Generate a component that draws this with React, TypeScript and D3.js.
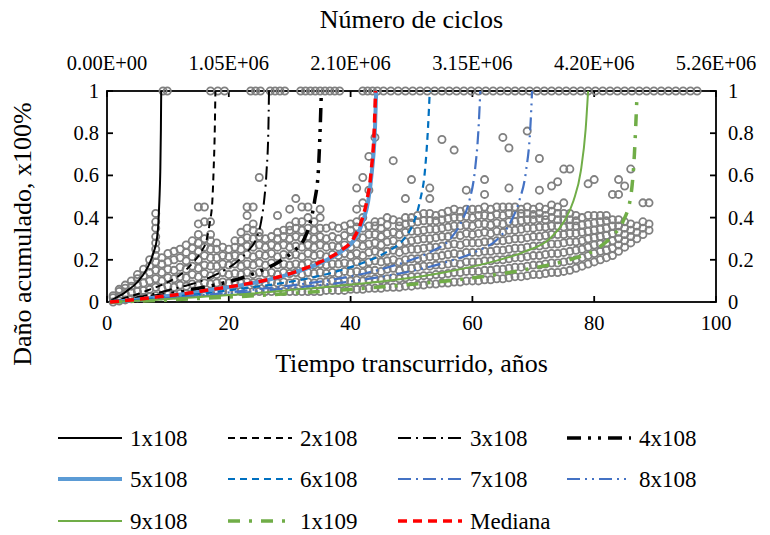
import React from "react";
import * as d3 from "d3";

// ---------- DATA ----------
const xTicks = [0, 20, 40, 60, 80, 100];
const yTicks = [0, 0.2, 0.4, 0.6, 0.8, 1];
const yTickLabels = ["0", "0.2", "0.4", "0.6", "0.8", "1"];
const topLabels = ["0.00E+00", "1.05E+06", "2.10E+06", "3.15E+06", "4.20E+06", "5.26E+06"];

const seriesNames = ["1x108", "2x108", "3x108", "4x108", "5x108", "6x108", "7x108", "8x108", "9x108", "1x109", "Mediana"];

const t1 = [0.5, 0.9, 1.8, 2.7, 3.6, 4.5, 5.3, 6.2, 7.1, 7.7, 8.2, 8.45, 8.6, 8.75, 8.85, 8.9];
const t2 = [0.5, 1.8, 3.6, 5.3, 7.1, 8.9, 10.7, 12.5, 14.2, 15.5, 16.4, 16.9, 17.3, 17.5, 17.7, 17.8];
const t3 = [0.5, 2.7, 5.3, 8.0, 10.6, 13.3, 16.0, 18.6, 21.3, 23.1, 24.5, 25.3, 25.8, 26.2, 26.5, 26.6];
const t4 = [0.5, 3.5, 7.0, 10.6, 14.1, 17.6, 21.1, 24.6, 28.2, 30.6, 32.4, 33.4, 34.1, 34.7, 35.0, 35.2];
const t5 = [0.5, 4.4, 8.8, 13.3, 17.7, 22.1, 26.5, 30.9, 35.4, 38.5, 40.7, 42.0, 42.9, 43.5, 44.0, 44.2];
const t6 = [0.5, 5.3, 10.6, 15.9, 21.2, 26.5, 31.8, 37.1, 42.4, 46.1, 48.8, 50.4, 51.4, 52.2, 52.7, 53.0];
const t7 = [0.5, 6.1, 12.3, 18.4, 24.5, 30.7, 36.8, 42.9, 49.0, 53.3, 56.4, 58.2, 59.5, 60.4, 61.0, 61.3];
const t8 = [0.5, 7.0, 14.0, 20.9, 27.9, 34.9, 41.9, 48.9, 55.8, 60.7, 64.2, 66.3, 67.7, 68.8, 69.5, 69.8];
const t9 = [0.5, 7.9, 15.8, 23.7, 31.6, 39.5, 47.4, 55.3, 63.2, 68.7, 72.7, 75.0, 76.6, 77.8, 78.6, 79.0];
const t10 = [0.5, 8.7, 17.5, 26.2, 34.9, 43.6, 52.4, 61.1, 69.8, 75.9, 80.3, 82.9, 84.7, 86.0, 86.6, 87.0];
const tMed = [0.5, 4.4, 8.8, 13.2, 17.6, 22.0, 26.4, 30.8, 35.2, 38.3, 40.5, 41.8, 42.7, 43.4, 43.9, 44.1];

const dStd = [0, 0.01, 0.025, 0.04, 0.06, 0.08, 0.105, 0.14, 0.19, 0.24, 0.3, 0.38, 0.48, 0.62, 0.82, 1.0];
const d10 = [0, 0.008, 0.02, 0.033, 0.05, 0.068, 0.09, 0.118, 0.16, 0.2, 0.25, 0.31, 0.38, 0.5, 0.7, 0.96];
const dMed = [0, 0.011, 0.026, 0.041, 0.061, 0.081, 0.106, 0.142, 0.192, 0.242, 0.302, 0.385, 0.485, 0.625, 0.83, 1.0];

// Failed simulations plotted at 100% damage
const failedYears = [9.2, 9.9, 17.0, 18.2, 19.3, 23.6, 24.4, 25.2, 26.8, 27.6, 28.4, 29.2, 31.8, 32.6, 33.4, 34.2, 35.0, 35.8, 36.6, 37.4, 38.2,
  42.0, 42.8, 43.6, 44.4, 45.4, 46.6, 47.8, 49.0, 50.2, 51.4, 52.6, 53.8, 55.0, 56.2, 57.4, 58.6, 59.8, 61.0, 62.2, 63.4, 64.6, 65.8, 67.0,
  68.2, 69.4, 70.6, 71.8, 73.0, 74.2, 75.4, 76.6, 77.8, 79.0, 80.2, 81.4, 82.6, 83.8, 85.0, 86.2, 87.4, 88.6, 89.8, 91.0, 92.2, 93.4, 94.6, 95.8, 96.9];

// Simulated damage values, grouped by year
const cloudYears = [1, 2, 3, 4, 5, 6, 7, 8, 9, 10, 11, 12, 13, 14, 15, 16, 17, 18, 19, 20, 21, 22, 23, 24, 25, 26, 27, 28, 29, 30,
  31, 32, 33, 34, 35, 36, 37, 38, 39, 40, 41, 42, 43, 44, 45, 46, 47, 48, 49, 50, 51, 52, 53, 54, 55, 56, 57, 58, 59, 60,
  61, 62, 63, 64, 65, 66, 67, 68, 69, 70, 71, 72, 73, 74, 75, 76, 77, 78, 79, 80, 81, 82, 83, 84, 85, 86, 87, 88, 89];
const cloudDamage = [
  [0.0, 0.02, 0.03],
  [0.005, 0.025, 0.05, 0.06],
  [0.01, 0.04, 0.065, 0.08],
  [0.015, 0.045, 0.075, 0.1],
  [0.02, 0.05, 0.085, 0.11, 0.13],
  [0.02, 0.055, 0.09, 0.125, 0.155],
  [0.025, 0.06, 0.1, 0.14, 0.17, 0.2],
  [0.03, 0.07, 0.11, 0.15, 0.19, 0.22, 0.25, 0.28, 0.31, 0.35, 0.38, 0.42],
  [0.03, 0.065, 0.1, 0.14, 0.18, 0.21],
  [0.035, 0.075, 0.115, 0.155, 0.19, 0.23],
  [0.035, 0.07, 0.11, 0.15, 0.2, 0.24],
  [0.04, 0.08, 0.12, 0.165, 0.21, 0.25],
  [0.04, 0.075, 0.115, 0.155, 0.195, 0.235, 0.27],
  [0.04, 0.085, 0.13, 0.17, 0.215, 0.255, 0.29],
  [0.045, 0.08, 0.12, 0.16, 0.2, 0.24, 0.28, 0.32, 0.37, 0.45],
  [0.045, 0.09, 0.135, 0.175, 0.22, 0.26, 0.3, 0.38, 0.45],
  [0.045, 0.085, 0.125, 0.17, 0.21, 0.25, 0.29, 0.32, 0.38],
  [0.05, 0.09, 0.13, 0.17, 0.21, 0.25, 0.28],
  [0.05, 0.095, 0.14, 0.18, 0.22, 0.26],
  [0.05, 0.09, 0.13, 0.175, 0.215, 0.25],
  [0.05, 0.095, 0.135, 0.18, 0.22, 0.26, 0.29],
  [0.05, 0.09, 0.13, 0.17, 0.21, 0.25, 0.29, 0.33],
  [0.05, 0.095, 0.14, 0.18, 0.225, 0.265, 0.305, 0.35, 0.41, 0.45],
  [0.05, 0.09, 0.13, 0.175, 0.215, 0.26, 0.3, 0.34, 0.37, 0.45],
  [0.05, 0.095, 0.14, 0.185, 0.225, 0.27, 0.31, 0.33, 0.59],
  [0.05, 0.09, 0.135, 0.175, 0.22, 0.26, 0.3],
  [0.05, 0.095, 0.14, 0.185, 0.23, 0.27, 0.31],
  [0.05, 0.09, 0.13, 0.175, 0.215, 0.26, 0.3, 0.33, 0.41],
  [0.05, 0.095, 0.14, 0.18, 0.225, 0.27, 0.31, 0.34],
  [0.05, 0.09, 0.135, 0.175, 0.22, 0.26, 0.3, 0.34, 0.36, 0.44],
  [0.05, 0.095, 0.14, 0.18, 0.225, 0.265, 0.31, 0.35, 0.38, 0.49],
  [0.05, 0.09, 0.13, 0.175, 0.215, 0.26, 0.3, 0.34, 0.38, 0.45],
  [0.05, 0.095, 0.14, 0.185, 0.23, 0.27, 0.31, 0.35, 0.4, 0.45],
  [0.05, 0.09, 0.135, 0.175, 0.22, 0.26, 0.3, 0.34, 0.38],
  [0.05, 0.095, 0.14, 0.18, 0.225, 0.27, 0.31, 0.35, 0.4, 0.44],
  [0.055, 0.095, 0.135, 0.175, 0.215, 0.26, 0.3, 0.35],
  [0.055, 0.1, 0.14, 0.18, 0.225, 0.265, 0.31, 0.36],
  [0.055, 0.095, 0.135, 0.18, 0.22, 0.26, 0.3, 0.35],
  [0.055, 0.1, 0.145, 0.185, 0.23, 0.27, 0.315, 0.36],
  [0.06, 0.1, 0.14, 0.18, 0.22, 0.26, 0.3, 0.34, 0.37],
  [0.06, 0.105, 0.145, 0.19, 0.23, 0.275, 0.315, 0.355, 0.38, 0.44, 0.54],
  [0.06, 0.1, 0.14, 0.18, 0.22, 0.265, 0.305, 0.35, 0.4, 0.47, 0.59],
  [0.065, 0.105, 0.15, 0.19, 0.235, 0.275, 0.32, 0.36, 0.53, 0.69],
  [0.065, 0.11, 0.15, 0.195, 0.24, 0.28, 0.32, 0.36, 0.38, 0.78],
  [0.065, 0.105, 0.145, 0.19, 0.23, 0.27, 0.31, 0.35, 0.38],
  [0.07, 0.11, 0.155, 0.195, 0.24, 0.285, 0.325, 0.365, 0.4],
  [0.07, 0.115, 0.16, 0.2, 0.245, 0.29, 0.33, 0.39, 0.67],
  [0.07, 0.11, 0.15, 0.19, 0.235, 0.275, 0.32, 0.36, 0.38],
  [0.075, 0.115, 0.16, 0.2, 0.245, 0.285, 0.33, 0.37, 0.4, 0.49],
  [0.075, 0.12, 0.16, 0.205, 0.25, 0.29, 0.335, 0.375, 0.4, 0.58],
  [0.08, 0.12, 0.165, 0.205, 0.25, 0.295, 0.335, 0.38, 0.41],
  [0.08, 0.125, 0.17, 0.21, 0.255, 0.3, 0.34, 0.385, 0.42],
  [0.085, 0.125, 0.17, 0.215, 0.26, 0.3, 0.345, 0.385, 0.42, 0.49, 0.54],
  [0.085, 0.13, 0.175, 0.215, 0.26, 0.305, 0.345, 0.385, 0.41],
  [0.09, 0.13, 0.175, 0.22, 0.265, 0.31, 0.35, 0.39, 0.42, 0.77],
  [0.09, 0.135, 0.18, 0.225, 0.27, 0.31, 0.355, 0.395, 0.43],
  [0.095, 0.14, 0.185, 0.23, 0.275, 0.32, 0.36, 0.4, 0.44, 0.72],
  [0.095, 0.14, 0.18, 0.225, 0.27, 0.315, 0.36, 0.4, 0.43],
  [0.1, 0.145, 0.19, 0.235, 0.28, 0.325, 0.365, 0.405, 0.44, 0.53],
  [0.1, 0.145, 0.19, 0.235, 0.28, 0.32, 0.36, 0.4, 0.44],
  [0.1, 0.145, 0.19, 0.235, 0.28, 0.325, 0.37, 0.41, 0.44],
  [0.105, 0.15, 0.195, 0.24, 0.285, 0.33, 0.37, 0.41, 0.45, 0.51, 0.58],
  [0.105, 0.15, 0.195, 0.24, 0.285, 0.325, 0.365, 0.405, 0.44],
  [0.11, 0.155, 0.2, 0.245, 0.29, 0.335, 0.375, 0.415, 0.45],
  [0.11, 0.155, 0.2, 0.245, 0.29, 0.33, 0.37, 0.41, 0.45, 0.78],
  [0.115, 0.16, 0.205, 0.25, 0.295, 0.34, 0.38, 0.42, 0.45, 0.54, 0.73],
  [0.12, 0.165, 0.21, 0.255, 0.3, 0.34, 0.38, 0.415, 0.45],
  [0.12, 0.165, 0.21, 0.255, 0.3, 0.345, 0.385, 0.42, 0.44],
  [0.125, 0.17, 0.215, 0.26, 0.305, 0.35, 0.39, 0.42, 0.45, 0.81],
  [0.13, 0.175, 0.22, 0.265, 0.31, 0.35, 0.39, 0.415, 0.44],
  [0.13, 0.175, 0.22, 0.265, 0.31, 0.355, 0.395, 0.42, 0.45, 0.53, 0.68],
  [0.135, 0.18, 0.225, 0.27, 0.315, 0.355, 0.39, 0.41, 0.44],
  [0.14, 0.185, 0.23, 0.275, 0.32, 0.36, 0.4, 0.43, 0.46, 0.55],
  [0.14, 0.185, 0.23, 0.275, 0.32, 0.36, 0.39, 0.42, 0.45, 0.57],
  [0.145, 0.19, 0.235, 0.28, 0.32, 0.355, 0.39, 0.42, 0.47, 0.63],
  [0.15, 0.195, 0.24, 0.285, 0.325, 0.36, 0.39, 0.42, 0.63],
  [0.16, 0.2, 0.245, 0.285, 0.325, 0.36, 0.385, 0.41],
  [0.17, 0.21, 0.25, 0.29, 0.33, 0.365, 0.4],
  [0.18, 0.22, 0.26, 0.3, 0.335, 0.37, 0.41, 0.56],
  [0.19, 0.23, 0.27, 0.305, 0.34, 0.375, 0.41, 0.58],
  [0.2, 0.24, 0.275, 0.31, 0.345, 0.38, 0.41],
  [0.21, 0.245, 0.28, 0.315, 0.35, 0.385, 0.41],
  [0.22, 0.255, 0.29, 0.325, 0.36, 0.39, 0.51],
  [0.24, 0.27, 0.3, 0.33, 0.36, 0.39, 0.51, 0.58],
  [0.26, 0.29, 0.32, 0.35, 0.38, 0.55],
  [0.28, 0.31, 0.34, 0.37, 0.63],
  [0.3, 0.33, 0.36],
  [0.32, 0.35, 0.38, 0.47],
  [0.34, 0.37, 0.47],
];

// ---------- STYLES ----------
const seriesTimes = [t1, t2, t3, t4, t5, t6, t7, t8, t9, t10, tMed];
const seriesDamage = [dStd, dStd, dStd, dStd, dStd, dStd, dStd, dStd, dStd, d10, dMed];
const seriesStyle = [
  { color: "#000000", width: 2, dash: "" },
  { color: "#000000", width: 2, dash: "7,5" },
  { color: "#000000", width: 2, dash: "13,5,2,5" },
  { color: "#000000", width: 3.5, dash: "14,7,3,7,3,7" },
  { color: "#5B9BD5", width: 4, dash: "" },
  { color: "#0070C0", width: 2.2, dash: "7,5" },
  { color: "#4472C4", width: 2.2, dash: "13,5,2,5" },
  { color: "#4472C4", width: 2.2, dash: "13,5,2,5,2,5" },
  { color: "#70AD47", width: 2, dash: "" },
  { color: "#70AD47", width: 3.5, dash: "12,9,3,9" },
  { color: "#FF0000", width: 3.5, dash: "9,6" },
];

const FONT = "'Liberation Serif', 'Times New Roman', serif";

export default function App() {
  const W = 770, H = 535;
  const x = d3.scaleLinear().domain([0, 100]).range([107, 716]);
  const y = d3.scaleLinear().domain([0, 1]).range([302, 91]);
  const line = d3
    .line<[number, number]>()
    .x((d) => x(d[0]))
    .y((d) => y(d[1]))
    .curve(d3.curveMonotoneX);

  const points: [number, number][] = [];
  cloudYears.forEach((t, i) => cloudDamage[i].forEach((v) => points.push([t, v])));
  failedYears.forEach((t) => points.push([t, 1]));

  const legendCols = [58, 228, 398, 567];
  const legendRows = [438, 479, 521];
  const legendLen = 64;

  return (
    <svg width={W} height={H} style={{ position: "absolute", left: 0, top: 0, background: "#fff" }} fontFamily={FONT}>
      <rect x={0} y={0} width={W} height={H} fill="#fff" />
      {/* title */}
      <text x={x(50)} y={28} fontSize={26} textAnchor="middle">Número de ciclos</text>
      {/* top labels */}
      {xTicks.map((t, i) => (
        <text key={"tl" + i} x={x(t)} y={70} fontSize={20.5} textAnchor="middle">{topLabels[i]}</text>
      ))}
      {/* bottom labels */}
      {xTicks.map((t) => (
        <text key={"bl" + t} x={x(t)} y={330} fontSize={20.5} textAnchor="middle">{t}</text>
      ))}
      {/* y labels */}
      {yTicks.map((v, i) => (
        <g key={"yl" + i}>
          <text x={99} y={y(v) + 7} fontSize={20.5} textAnchor="end">{yTickLabels[i]}</text>
          <text x={728} y={y(v) + 7} fontSize={20.5} textAnchor="start">{yTickLabels[i]}</text>
        </g>
      ))}
      <text x={x(50)} y={372} fontSize={26} textAnchor="middle">Tiempo transcurrido, años</text>
      <text transform={`translate(31, 234) rotate(-90)`} fontSize={26} textAnchor="middle">Daño acumulado, x100%</text>

      {/* frame */}
      <rect x={x(0)} y={y(1)} width={x(100) - x(0)} height={y(0) - y(1)} fill="none" stroke="#000" strokeWidth={1.8} />
      {xTicks.map((t) => (
        <g key={"xt" + t}>
          <line x1={x(t)} x2={x(t)} y1={y(0)} y2={y(0) - 6} stroke="#000" strokeWidth={1.8} />
          <line x1={x(t)} x2={x(t)} y1={y(1)} y2={y(1) + 6} stroke="#000" strokeWidth={1.8} />
        </g>
      ))}
      {yTicks.map((v) => (
        <g key={"yt" + v}>
          <line x1={x(0)} x2={x(0) + 6} y1={y(v)} y2={y(v)} stroke="#000" strokeWidth={1.8} />
          <line x1={x(100)} x2={x(100) - 6} y1={y(v)} y2={y(v)} stroke="#000" strokeWidth={1.8} />
        </g>
      ))}

      {/* scatter */}
      <g fill="none" stroke="#808080" strokeWidth={1.8}>
        {points.map((p, i) => (
          <circle key={"p" + i} cx={x(p[0])} cy={y(p[1])} r={3.6} />
        ))}
      </g>

      {/* curves */}
      {seriesNames.map((name, i) => {
        const pts = seriesTimes[i].map((t, j) => [t, seriesDamage[i][j]] as [number, number]);
        const s = seriesStyle[i];
        return (
          <path key={name} d={line(pts) || ""} fill="none" stroke={s.color} strokeWidth={s.width}
            strokeDasharray={s.dash || undefined} />
        );
      })}

      {/* legend */}
      {seriesNames.map((name, i) => {
        const cx = legendCols[i % 4];
        const cy = legendRows[Math.floor(i / 4)];
        const s = seriesStyle[i];
        return (
          <g key={"lg" + name}>
            <line x1={cx} x2={cx + legendLen} y1={cy} y2={cy} stroke={s.color} strokeWidth={s.width}
              strokeDasharray={s.dash || undefined} />
            <text x={cx + legendLen + 8} y={cy + 8} fontSize={23}>{name}</text>
          </g>
        );
      })}
    </svg>
  );
}
